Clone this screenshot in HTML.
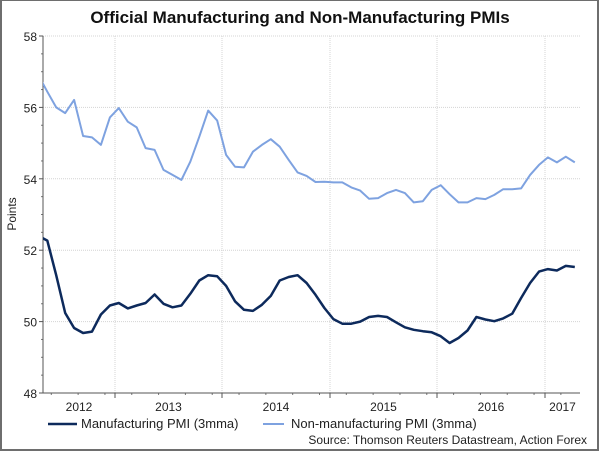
<!DOCTYPE html>
<html><head><meta charset="utf-8"><style>
body{margin:0;background:#fff;}
#wrap{position:relative;width:600px;height:451px;overflow:hidden;font-family:"Liberation Sans",Arial,sans-serif;}
</style></head><body>
<div id="wrap">
<svg id="chart" width="600" height="451">
<rect x="1" y="0" width="597" height="450" fill="#fff" stroke="#6e6e6e" stroke-width="2"/>
<text x="300" y="23" text-anchor="middle" font-size="17" font-weight="bold" fill="#111">Official Manufacturing and Non-Manufacturing PMIs</text>
<text transform="translate(16,214) rotate(-90)" text-anchor="middle" font-size="12" fill="#222">Points</text>
<g id="grid"></g><g id="axes"></g>
<defs><clipPath id="pc"><rect x="43" y="30" width="537" height="370"/></clipPath></defs>
<g id="series" clip-path="url(#pc)"></g>
<line x1="48" y1="424" x2="77" y2="424" stroke="#0d2a5c" stroke-width="2.5"/>
<text x="81" y="428" font-size="13" fill="#222">Manufacturing PMI (3mma)</text>
<line x1="263" y1="424" x2="284" y2="424" stroke="#7ea2e0" stroke-width="2"/>
<text x="291" y="428" font-size="13" fill="#222">Non-manufacturing PMI (3mma)</text>
<text x="587" y="444" text-anchor="end" font-size="12" fill="#222">Source: Thomson Reuters Datastream, Action Forex</text>
</svg></div>
<script>
const yTicks=[48,50,52,54,56,58];
const yearLabels=["2012","2013","2014","2015","2016","2017"];
const manufacturing=[52.4,52.27,51.3,50.24,49.82,49.68,49.72,50.2,50.45,50.52,50.37,50.45,50.52,50.76,50.5,50.4,50.45,50.78,51.15,51.3,51.27,51.0,50.57,50.33,50.3,50.47,50.72,51.15,51.25,51.3,51.08,50.75,50.38,50.07,49.94,49.94,50.0,50.13,50.16,50.13,49.98,49.84,49.77,49.73,49.7,49.59,49.4,49.54,49.75,50.13,50.06,50.01,50.09,50.22,50.66,51.08,51.4,51.47,51.43,51.56,51.53];
const nonManufacturing=[56.9,56.44,56.0,55.84,56.21,55.2,55.16,54.95,55.72,55.98,55.6,55.44,54.86,54.81,54.25,54.11,53.97,54.48,55.18,55.91,55.63,54.67,54.34,54.32,54.76,54.95,55.11,54.9,54.53,54.18,54.08,53.91,53.92,53.9,53.9,53.76,53.67,53.44,53.46,53.6,53.69,53.6,53.34,53.37,53.69,53.82,53.57,53.34,53.34,53.46,53.43,53.55,53.71,53.71,53.73,54.11,54.39,54.6,54.46,54.62,54.46];
const NS="http://www.w3.org/2000/svg";
const L=43,R=580,T=36,B=393;
function y(v){return T+(58-v)*(B-T)/10;}
function x(i){return 47.3+8.94*(i-1);}
const yearStart=[null,115,222,330,437,545];
function mk(tag,attrs,parent){const e=document.createElementNS(NS,tag);for(const k in attrs)e.setAttribute(k,attrs[k]);parent.appendChild(e);return e;}
const grid=document.getElementById('grid'),axes=document.getElementById('axes'),ser=document.getElementById('series');
yTicks.forEach(v=>{
 if(v>48){const g=mk('line',{x1:L,x2:R,y1:y(v),y2:y(v),stroke:'#d4d4d4','stroke-dasharray':'1,1'},grid);
 
 }
 const t=mk('text',{x:L-6,y:y(v)+5,'text-anchor':'end','font-size':'12',fill:'#222'},axes);t.textContent=v;
 
 
 mk('line',{x1:L-4,x2:L,y1:y(v),y2:y(v),stroke:'#555'},axes);
});
for(let v=48.5;v<58;v+=0.5){if(v%2)mk('line',{x1:L-2,x2:L,y1:y(v),y2:y(v),stroke:'#777'},axes);}
for(let k=1;k<6;k++){const g=mk('line',{x1:yearStart[k],x2:yearStart[k],y1:T,y2:B,stroke:'#d4d4d4','stroke-dasharray':'1,1'},grid);
 
 
 mk('line',{x1:yearStart[k],x2:yearStart[k],y1:B,y2:B+5,stroke:'#555'},axes);}
for(let i=1;i<manufacturing.length;i+=3){mk('line',{x1:x(i)+4,x2:x(i)+4,y1:B,y2:B+2,stroke:'#777'},axes);}
mk('line',{x1:L,x2:L,y1:T,y2:B,stroke:'#555'},axes);
mk('line',{x1:L,x2:R,y1:B,y2:B,stroke:'#555'},axes);
const bounds=[L,115,222,330,437,545,R];
yearLabels.forEach((s,k)=>{const t=mk('text',{x:(bounds[k]+bounds[k+1])/2,y:411,'text-anchor':'middle','font-size':'12',fill:'#222'},axes);t.textContent=s;
 
 });
function line(data,color,w,name){const d=data.map((v,i)=>(i?'L':'M')+x(i).toFixed(1)+','+y(v).toFixed(1)).join('');
 const p=mk('path',{d:d,fill:'none',stroke:color,'stroke-width':w,'stroke-linejoin':'round'},ser);
 
 }
line(nonManufacturing,'#7ea2e0',2,'nonmanufacturing-line');
line(manufacturing,'#0d2a5c',2.5,'manufacturing-line');
</script>
</body></html>
